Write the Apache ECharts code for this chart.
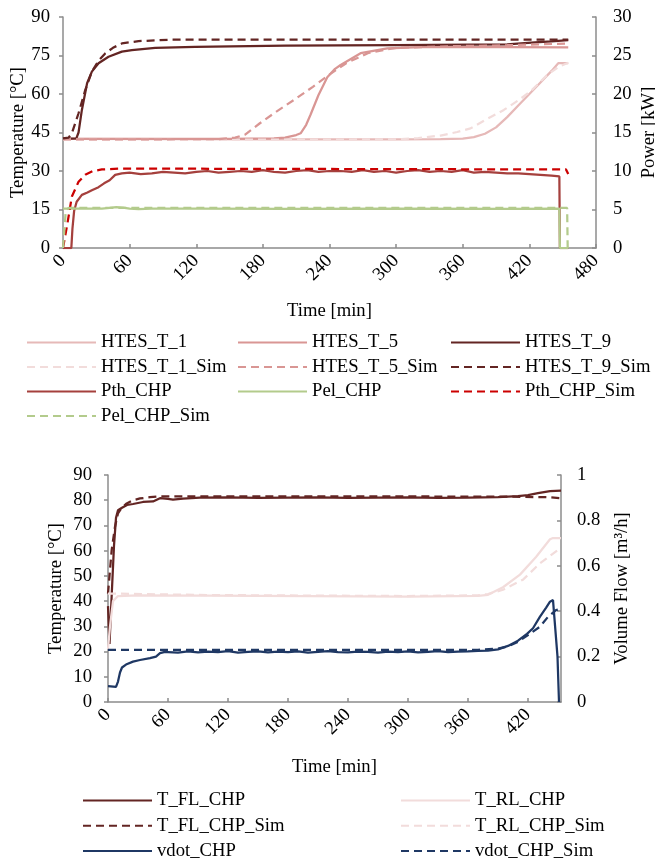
<!DOCTYPE html>
<html>
<head>
<meta charset="utf-8">
<script src="https://cdn.jsdelivr.net/npm/echarts@6/dist/echarts.min.js"></script>
<style>
html,body{margin:0;padding:0;background:#fff;}
#chart{width:655px;height:864px;}
</style>
</head>
<body>
<div id="chart"></div>
<script>
// ---------- Top chart data (time in min) ----------
const tT1 = [0, 100, 200, 300, 340, 360, 370, 380, 390, 400, 410, 420, 430, 440, 446, 455];
const vT1 = [42.5, 42.4, 42.3, 42.3, 42.4, 42.6, 43.2, 44.5, 47, 51, 55.5, 60, 64.5, 69, 72, 72];
const tT1s = [0, 150, 300, 320, 340, 355, 367, 380, 397, 410, 421, 436, 446, 455];
const vT1s = [42.2, 42.2, 42.3, 42.8, 43.8, 45.2, 46.6, 49.8, 53.8, 57.5, 61, 67.4, 70.5, 72.2];
const tT5 = [0, 150, 190, 200, 205, 210, 214, 219, 223, 230, 238, 245, 250, 268, 292, 322, 400, 455];
const vT5 = [42.5, 42.5, 42.7, 43.0, 43.5, 44.0, 44.7, 48, 52, 59.5, 66.5, 69.8, 71.3, 75.9, 77.8, 78.3, 78.3, 78.2];
const tT5s = [0, 140, 155, 164, 177, 190, 208, 225, 238, 255, 275, 300, 350, 400, 455];
const vT5s = [42.3, 42.4, 43, 44.2, 48.5, 52.5, 57.7, 62.8, 67, 72, 76, 78, 78.6, 79, 79.7];
const tT9 = [0, 12, 14, 17, 21.7, 26, 32, 41, 53, 62, 83, 119, 200, 300, 400, 425, 440, 455];
const vT9 = [42.5, 42.7, 45, 53.8, 64.2, 68.7, 72, 74.5, 76.5, 77.1, 78, 78.4, 78.8, 79, 79.3, 80.1, 80.5, 81];
const tT9s = [0, 5, 8, 14, 20, 26, 32, 38, 45, 53, 68, 98, 455];
const vT9s = [42.7, 43, 44.7, 52.5, 61.5, 68.7, 73, 75.8, 78, 79.7, 80.6, 81.2, 81.2];

const tPth = [0, 7.5, 8.5, 10, 12.3, 17, 22, 26, 32, 37, 42, 47, 53,
  60, 70, 80, 90, 100, 110, 120, 130, 140, 150,
  160, 170, 180, 190, 200, 210, 220, 230, 240, 250,
  260, 270, 280, 290, 300, 310, 320, 330, 340, 350,
  360, 370, 380, 390, 400, 410, 420, 430, 440, 447, 447.5, 455];
const vPth = [0, 0, 2.5, 4.8, 6.0, 6.9, 7.2, 7.5, 7.9, 8.4, 8.8, 9.5, 9.7,
  9.8, 9.6, 9.7, 9.9, 9.8, 9.7, 9.9, 10.0, 9.8, 9.9,
  10.0, 9.9, 10.1, 9.9, 9.8, 10.0, 10.1, 9.9, 10.0, 10.0,
  9.9, 10.1, 9.9, 10.0, 9.8, 10.0, 10.1, 9.9, 10.0, 9.9,
  10.1, 9.8, 9.9, 9.8, 9.7, 9.7, 9.6, 9.5, 9.4, 9.3, 0, 0];
const tPths = [0, 4, 8, 14, 20, 27, 35, 50, 100, 453, 455];
const vPths = [0, 3.2, 6.7, 8.6, 9.5, 10, 10.2, 10.3, 10.3, 10.2, 9.6];
const tPel = [0, 20, 35, 42, 48, 54, 60, 68, 80, 120, 200, 300, 400, 447, 447.5, 455];
const vPel = [5.1, 5.1, 5.12, 5.2, 5.3, 5.25, 5.12, 5.05, 5.1, 5.1, 5.08, 5.1, 5.08, 5.1, 0, 0];
const tPels = [0, 2.5, 5, 454, 454.5];
const vPels = [0, 4.8, 5.2, 5.2, 0];

// ---------- Bottom chart data ----------
const tFL = [0, 1.5, 4, 6, 8, 10, 14, 19, 25, 35, 45, 52, 60, 65, 75, 92, 120, 150, 180, 210, 240, 270, 300, 330, 360, 390, 410, 420, 430, 442, 453];
const vFL = [38, 23, 45, 62, 73, 76, 77, 78.1, 78.5, 79.3, 79.5, 80.8, 80.5, 80.2, 80.6, 81, 81.1, 80.9, 81, 81.1, 80.9, 81, 81.1, 80.9, 81, 81.2, 81.6, 82, 82.8, 83.6, 83.8];
const tFLs = [0, 3.7, 7, 10, 14, 18.7, 25, 32, 42, 52, 100, 200, 300, 400, 440, 453];
const vFLs = [43, 60.3, 69.5, 74.8, 77.2, 78.7, 80, 80.7, 81.2, 81.5, 81.5, 81.5, 81.5, 81.4, 81.2, 80.8];
const tRL = [0, 2, 5, 10, 30, 100, 200, 300, 370, 380, 395, 412, 428, 442, 445, 453];
const vRL = [21, 30, 40, 42, 42.3, 42.2, 42, 41.8, 42.1, 42.5, 45.5, 50.5, 57.5, 64.5, 65, 65];
const tRLs = [0, 100, 200, 300, 370, 380, 395, 415, 432, 450, 453];
const vRLs = [43, 42.4, 42.2, 42, 42.3, 42.8, 44.5, 48.5, 55, 60.3, 61];
const tV = [0, 8, 10, 12, 14, 18, 25, 32, 42, 48, 52, 56,
  60, 70, 80, 90, 100, 110, 120, 130, 140, 150,
  160, 170, 180, 190, 200, 210, 220, 230, 240, 250,
  260, 270, 280, 290, 300, 310, 320, 330, 340, 350,
  360, 370, 380, 390, 400, 410, 419, 425, 432, 438, 442, 445, 447, 449.5, 451];
const vV = [0.07, 0.067, 0.09, 0.13, 0.152, 0.165, 0.178, 0.185, 0.193, 0.2, 0.215, 0.22,
  0.22, 0.218, 0.223, 0.219, 0.222, 0.22, 0.224, 0.218, 0.221, 0.223,
  0.219, 0.222, 0.22, 0.223, 0.218, 0.221, 0.224, 0.22, 0.219, 0.222,
  0.221, 0.218, 0.222, 0.22, 0.223, 0.219, 0.221, 0.224, 0.22, 0.222,
  0.223, 0.225, 0.226, 0.232, 0.247, 0.27, 0.3, 0.325, 0.376, 0.415, 0.442, 0.449, 0.445, 0.2, 0];
const tVs = [0, 370, 390, 400, 410, 420, 432, 440, 448, 453];
const vVs = [0.23, 0.23, 0.235, 0.245, 0.265, 0.295, 0.332, 0.375, 0.405, 0.41];

const FONT = 'Liberation Serif';
const FS = 18.67;
const AX = '#8c8c8c';

function pts(t, v) { return t.map((x, i) => [x, v[i]]); }

function line(name, t, v, color, dashed, xi, yi) {
  return {
    name: name, type: 'line', xAxisIndex: xi, yAxisIndex: yi,
    data: pts(t, v), symbol: 'none', showSymbol: false, smooth: false,
    lineStyle: { color: color, width: 2.25, type: dashed ? [8, 5] : 'solid' },
    itemStyle: { color: color },
    emphasis: { disabled: true }
  };
}

function xAx(gi, max, gap, showMax) {
  return {
    type: 'value', gridIndex: gi, min: 0, max: max, interval: 60,
    name: 'Time [min]', nameLocation: 'middle', nameGap: gap,
    nameMoveOverlap: false,
    nameTextStyle: { fontFamily: FONT, fontSize: FS, color: '#000' },
    axisLine: { onZero: false, lineStyle: { color: AX, width: 1.5 } },
    axisTick: { inside: true, length: 4, lineStyle: { color: AX, width: 1.5 } },
    axisLabel: { rotate: 45, margin: 10, fontFamily: FONT, fontSize: FS, color: '#000', showMaxLabel: showMax },
    splitLine: { show: false }
  };
}
function yAx(gi, pos, min, max, interval, name, gap, margin) {
  return {
    type: 'value', gridIndex: gi, position: pos, min: min, max: max, interval: interval,
    name: name, nameLocation: 'middle', nameGap: gap, nameRotate: 90,
    nameMoveOverlap: false,
    nameTextStyle: { fontFamily: FONT, fontSize: FS, color: '#000' },
    axisLine: { show: true, onZero: false, lineStyle: { color: AX, width: 1.5 } },
    axisTick: { show: true, inside: pos === 'right', length: 4, lineStyle: { color: AX, width: 1.5 } },
    axisLabel: { margin: margin, fontFamily: FONT, fontSize: FS, color: '#000' },
    splitLine: { show: false }
  };
}
function leg(left, top, gap, names) {
  return {
    left: left, top: top, orient: 'vertical', padding: 0,
    itemWidth: 69, itemHeight: 14, itemGap: gap, itemTextGap: 6,
    selectedMode: false,
    itemStyle: { opacity: 0 },
    textStyle: { fontFamily: FONT, fontSize: FS, color: '#000' },
    data: names
  };
}

const C_T1 = '#E6B9B8', C_T1S = '#F2DCDB', C_T5 = '#D99694', C_T9 = '#632523';
const C_PTH = '#A5403D', C_PTHS = '#CC0000', C_PEL = '#B3CB8C';
const C_FL = '#632523', C_RL = '#F2DCDB', C_V = '#1F3864';

const chart = echarts.init(document.getElementById('chart'), null, { renderer: 'canvas' });
chart.setOption({
  animation: false,
  backgroundColor: '#fff',
  textStyle: { fontFamily: FONT, fontSize: FS, color: '#000' },
  grid: [
    { left: 63, right: 59, top: 17, height: 231, containLabel: false, outerBoundsMode: 'none' },
    { left: 108, right: 94, top: 475, height: 227, containLabel: false, outerBoundsMode: 'none' }
  ],
  xAxis: [xAx(0, 480, 54, true), xAx(1, 453, 56, false)],
  yAxis: [
    yAx(0, 'left', 0, 90, 15, 'Temperature [°C]', 35, 13),
    yAx(0, 'right', 0, 30, 5, 'Power [kW]', 44, 17),
    yAx(1, 'left', 0, 90, 10, 'Temperature [°C]', 42.5, 16),
    yAx(1, 'right', 0, 1, 0.2, 'Volume Flow [m³/h]', 52, 16)
  ],
  legend: [
    leg(26, 333, 5.5, ['HTES_T_1', 'HTES_T_1_Sim', 'Pth_CHP', 'Pel_CHP_Sim']),
    leg(237, 333, 5.5, ['HTES_T_5', 'HTES_T_5_Sim', 'Pel_CHP']),
    leg(450, 333, 5.5, ['HTES_T_9', 'HTES_T_9_Sim', 'Pth_CHP_Sim']),
    leg(82, 791, 6.3, ['T_FL_CHP', 'T_FL_CHP_Sim', 'vdot_CHP']),
    leg(400, 791, 6.3, ['T_RL_CHP', 'T_RL_CHP_Sim', 'vdot_CHP_Sim'])
  ],
  series: [
    line('HTES_T_1', tT1, vT1, C_T1, false, 0, 0),
    line('HTES_T_5', tT5, vT5, C_T5, false, 0, 0),
    line('HTES_T_9', tT9, vT9, C_T9, false, 0, 0),
    line('HTES_T_1_Sim', tT1s, vT1s, C_T1S, true, 0, 0),
    line('HTES_T_5_Sim', tT5s, vT5s, C_T5, true, 0, 0),
    line('HTES_T_9_Sim', tT9s, vT9s, C_T9, true, 0, 0),
    line('Pth_CHP', tPth, vPth, C_PTH, false, 0, 1),
    line('Pel_CHP', tPel, vPel, C_PEL, false, 0, 1),
    line('Pth_CHP_Sim', tPths, vPths, C_PTHS, true, 0, 1),
    line('Pel_CHP_Sim', tPels, vPels, C_PEL, true, 0, 1),
    line('T_FL_CHP', tFL, vFL, C_FL, false, 1, 2),
    line('T_RL_CHP', tRL, vRL, C_RL, false, 1, 2),
    line('T_FL_CHP_Sim', tFLs, vFLs, C_FL, true, 1, 2),
    line('T_RL_CHP_Sim', tRLs, vRLs, C_RL, true, 1, 2),
    line('vdot_CHP', tV, vV, C_V, false, 1, 3),
    line('vdot_CHP_Sim', tVs, vVs, C_V, true, 1, 3)
  ]
});
</script>
</body>
</html>
